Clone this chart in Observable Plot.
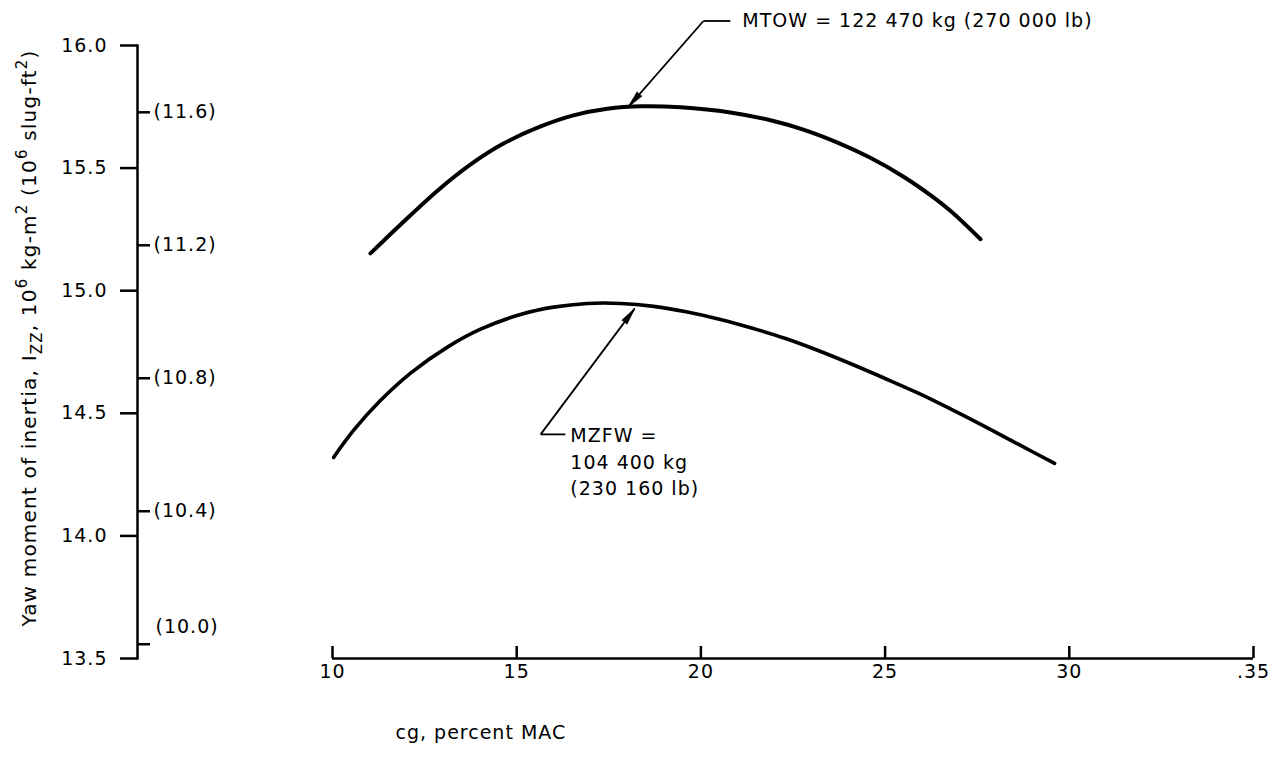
<!DOCTYPE html>
<html><head><meta charset="utf-8">
<script src="https://cdn.jsdelivr.net/npm/d3@7"></script>
<script src="https://cdn.jsdelivr.net/npm/@observablehq/plot@0.6"></script>
<style>
body{margin:0;background:#fff;}
#chart svg{font-family:"DejaVu Sans",Verdana,sans-serif;letter-spacing:1px;}
</style>
</head><body><div id="chart"></div>
<script>
// ---- data ----
const cgTicks = [10, 15, 20, 25, 30, 35];
const cgTickLabels = ["10", "15", "20", "25", "30", ".35"];
const kgTicks = [13.5, 14.0, 14.5, 15.0, 15.5, 16.0];
const slugTicks = [10.0, 10.4, 10.8, 11.2, 11.6];
const slugToKg = 1.35582;

const mtowCg  = [11.03, 11.85, 12.85, 13.75, 14.64, 15.65, 16.54, 17.46, 18.40, 19.45, 20.80, 21.89, 22.78, 23.71, 24.60, 25.50, 26.23, 26.78, 27.59];
const mtowIzz = [15.152, 15.270, 15.408, 15.515, 15.600, 15.670, 15.715, 15.742, 15.752, 15.748, 15.727, 15.695, 15.657, 15.604, 15.542, 15.465, 15.390, 15.325, 15.210];

const mzfwCg  = [10.03, 10.57, 11.30, 12.12, 13.12, 14.02, 15.10, 16.00, 16.92, 17.82, 18.72, 19.60, 20.50, 21.40, 22.30, 23.20, 24.10, 25.00, 25.90, 26.80, 27.70, 28.60, 29.60];
const mzfwIzz = [14.320, 14.430, 14.552, 14.664, 14.770, 14.843, 14.903, 14.933, 14.948, 14.948, 14.936, 14.914, 14.884, 14.847, 14.805, 14.755, 14.700, 14.642, 14.582, 14.516, 14.447, 14.375, 14.296];

const mtowLabel = "MTOW = 122 470 kg (270 000 lb)";
const mzfwLabel = "MZFW =\n104 400 kg\n(230 160 lb)";
const mtowNote = {tip: [18.03, 15.75], elbow: [20.07, 16.10], end: [20.8, 16.10]};
const mzfwNote = {tip: [18.2, 14.927], elbow: [15.65, 14.414], end: [16.32, 14.414]};
const xTitle = "cg, percent MAC";

// ---- layout ----
const W = 1277, H = 772;
const mL = 137, mR = 24, mT = 45, mB = 114;
const frameW = W - mL - mR, frameH = H - mT - mB;
const xDomain = [10, 35], xRange = [332, 1253];
const yDomain = [13.5, 16], yRange = [H - mB, mT];
const fs = 19;

const mtow = mtowCg.map((c, i) => ({cg: c, izz: mtowIzz[i]}));
const mzfw = mzfwCg.map((c, i) => ({cg: c, izz: mzfwIzz[i]}));
const seg = (n) => [{x1: n.elbow[0], y1: n.elbow[1], x2: n.end[0], y2: n.end[1]}];
const arr = (n) => [{x1: n.elbow[0], y1: n.elbow[1], x2: n.tip[0], y2: n.tip[1]}];
// direction (degrees clockwise from up) of each leader in screen space, for the arrowheads
const xs = d3.scaleLinear(xDomain, xRange), ys = d3.scaleLinear(yDomain, yRange);
const heading = (n) => Math.atan2(xs(n.tip[0]) - xs(n.elbow[0]), -(ys(n.tip[1]) - ys(n.elbow[1]))) * 180 / Math.PI;

const head = (n) => Plot.vector([n.tip], {x: d => d[0], y: d => d[1], rotate: heading(n), length: 17, anchor: "end", shape: "spike", r: 3.2, fill: "#000", stroke: "#000", strokeWidth: 0.8});

const chart = Plot.plot({
  width: W, height: H,
  marginLeft: mL, marginRight: mR, marginTop: mT, marginBottom: mB,
  style: {fontSize: fs + "px", fontFamily: "'DejaVu Sans', sans-serif", color: "#000", background: "#fff", overflow: "visible"},
  x: {domain: xDomain, range: xRange, axis: null},
  y: {domain: yDomain, range: yRange, axis: null},
  marks: [
    // main y axis
    Plot.frame({anchor: "left", stroke: "#000", strokeWidth: 2.5}),
    Plot.axisY(kgTicks, {anchor: "left", tickSize: 17, tickPadding: 13, strokeWidth: 2.5, tickFormat: d => d.toFixed(1), fontSize: fs, label: null, fill: "#000"}),
    // secondary (slug-ft^2) ticks on right side of y axis
    Plot.tickY(slugTicks, {y: d => d * slugToKg, insetRight: frameW - 13, stroke: "#000", strokeWidth: 2.5}),
    Plot.text(slugTicks.filter(d => d > 10), {y: d => d * slugToKg, frameAnchor: "left", dx: 16, textAnchor: "start", text: d => `(${d.toFixed(1)})`, fontSize: fs}),
    Plot.text(slugTicks.filter(d => d === 10), {y: d => d * slugToKg, frameAnchor: "left", dx: 18, dy: -17, textAnchor: "start", text: d => `(${d.toFixed(1)})`, fontSize: fs}),
    // x axis
    Plot.ruleY([kgTicks[0]], {x1: cgTicks[0], x2: cgTicks[cgTicks.length - 1], stroke: "#000", strokeWidth: 2.5}),
    Plot.tickX(cgTicks, {x: d => d, insetTop: frameH - 12, stroke: "#000", strokeWidth: 2.5}),
    Plot.text(cgTicks, {x: d => d, frameAnchor: "bottom", dy: 19, text: (d, i) => cgTickLabels[i], fontSize: 19}),
    Plot.text([xTitle], {frameAnchor: "bottom-left", dx: 258, dy: 80, textAnchor: "start", text: d => d, fontSize: fs}),
    // curves
    Plot.line(mtow, {x: "cg", y: "izz", curve: "catmull-rom", stroke: "#000", strokeWidth: 4, strokeLinecap: "round"}),
    Plot.line(mzfw, {x: "cg", y: "izz", curve: "catmull-rom", stroke: "#000", strokeWidth: 3.6, strokeLinecap: "round"}),
    // annotations
    Plot.link(seg(mtowNote), {x1: "x1", y1: "y1", x2: "x2", y2: "y2", stroke: "#000", strokeWidth: 1.8}),
    Plot.link(arr(mtowNote), {x1: "x1", y1: "y1", x2: "x2", y2: "y2", stroke: "#000", strokeWidth: 1.8}),
    head(mtowNote),
    Plot.text([mtowLabel], {x: mtowNote.end[0], y: mtowNote.end[1], dx: 12, textAnchor: "start", text: d => d, fontSize: fs}),
    Plot.link(seg(mzfwNote), {x1: "x1", y1: "y1", x2: "x2", y2: "y2", stroke: "#000", strokeWidth: 1.8}),
    Plot.link(arr(mzfwNote), {x1: "x1", y1: "y1", x2: "x2", y2: "y2", stroke: "#000", strokeWidth: 1.8}),
    head(mzfwNote),
    Plot.text([mzfwLabel], {x: mzfwNote.end[0], y: mzfwNote.end[1], dx: 5, textAnchor: "start", lineAnchor: "top", dy: -12, lineHeight: 1.42, text: d => d, fontSize: fs})
  ]
});
document.getElementById("chart").appendChild(chart);

// rotated y-axis title with sub/superscripts
const svg = d3.select(chart);
const t = svg.append("text")
  .attr("transform", "translate(36,338) rotate(-90)")
  .attr("text-anchor", "middle")
  .attr("font-size", 20)
  .attr("letter-spacing", "1.2px")
  .attr("fill", "#000");
const parts = [
  ["Yaw moment of inertia, I", 0, 20], ["ZZ", 6, 15], [", 10", -6, 20], ["6", -9, 15], [" kg-m", 9, 20],
  ["2", -9, 15], [" (10", 9, 20], ["6", -9, 15], [" slug-ft", 9, 20], ["2", -9, 15], [")", 9, 20]
];
for (const [txt, dy, size] of parts) t.append("tspan").attr("dy", dy).attr("font-size", size).text(txt);
</script>
</body></html>
